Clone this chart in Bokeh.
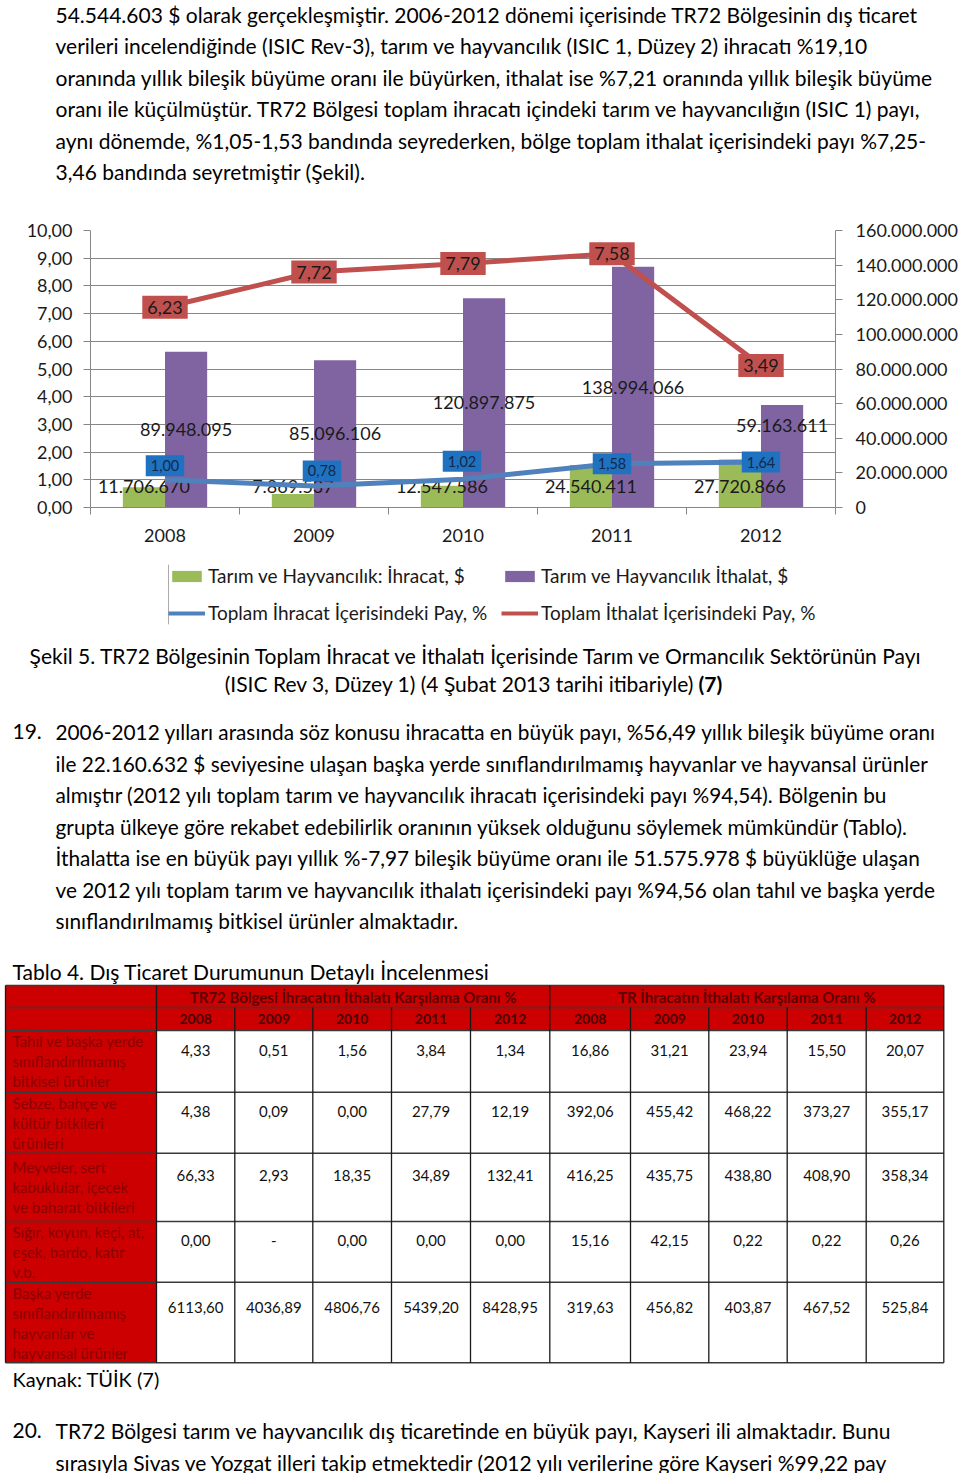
from bokeh.plotting import figure
from bokeh.models import (ColumnDataSource, Range1d, LinearAxis, FixedTicker,
                          Legend, LegendItem)
from bokeh.transform import dodge, stack
from bokeh.core.properties import value
from bokeh.embed import file_html
from bokeh.resources import INLINE

FONT = "Lato"

# ---------------- chart data ----------------
years = ["2008", "2009", "2010", "2011", "2012"]
export_usd = [11706670, 7869537, 12547586, 24540411, 27720866]
import_usd = [89948095, 85096106, 120897875, 138994066, 59163611]
export_share = [1.00, 0.78, 1.02, 1.58, 1.64]
import_share = [6.23, 7.72, 7.79, 7.58, 3.49]

left_ticks = [0, 1, 2, 3, 4, 5, 6, 7, 8, 9, 10]
left_tick_labels = ["0,00", "1,00", "2,00", "3,00", "4,00", "5,00",
                    "6,00", "7,00", "8,00", "9,00", "10,00"]
right_ticks = [0, 20000000, 40000000, 60000000, 80000000,
               100000000, 120000000, 140000000, 160000000]
right_tick_labels = ["0", "20.000.000", "40.000.000", "60.000.000", "80.000.000",
                     "100.000.000", "120.000.000", "140.000.000", "160.000.000"]

series_names = ["Tarım ve Hayvancılık: İhracat, $",
                "Tarım ve Hayvancılık İthalat, $",
                "Toplam İhracat İçerisindeki Pay, %",
                "Toplam İthalat İçerisindeki Pay, %"]

# label nudges in screen pixels (placement only)
share_label_dx = [0, 8, -1, 0, 0]
share_label_dy = [-14, -15, -18, 0, 0]
import_label_dy = [0, 0, 0, 0, -31]

# ---------------- text ----------------
top_para = [
    "54.544.603 $ olarak gerçekleşmiştir. 2006-2012 dönemi içerisinde TR72 Bölgesinin dış ticaret",
    "verileri incelendiğinde (ISIC Rev-3), tarım ve hayvancılık (ISIC 1, Düzey 2) ihracatı %19,10",
    "oranında yıllık bileşik büyüme oranı ile büyürken, ithalat ise %7,21 oranında yıllık bileşik büyüme",
    "oranı ile küçülmüştür. TR72 Bölgesi toplam ihracatı içindeki tarım ve hayvancılığın (ISIC 1) payı,",
    "aynı dönemde, %1,05-1,53 bandında seyrederken, bölge toplam ithalat içerisindeki payı %7,25-",
    "3,46 bandında seyretmiştir (Şekil).",
]
caption_1 = "Şekil 5. TR72 Bölgesinin Toplam İhracat ve İthalatı İçerisinde Tarım ve Ormancılık Sektörünün Payı"
caption_2 = "(ISIC Rev 3, Düzey 1) (4 Şubat 2013 tarihi itibariyle)"
caption_ref = "(7)"
para19 = [
    "2006-2012 yılları arasında söz konusu ihracatta en büyük payı, %56,49 yıllık bileşik büyüme oranı",
    "ile 22.160.632 $ seviyesine ulaşan başka yerde sınıflandırılmamış hayvanlar ve hayvansal ürünler",
    "almıştır (2012 yılı toplam tarım ve hayvancılık ihracatı içerisindeki payı %94,54). Bölgenin bu",
    "grupta ülkeye göre rekabet edebilirlik oranının yüksek olduğunu söylemek mümkündür (Tablo).",
    "İthalatta ise en büyük payı yıllık %-7,97 bileşik büyüme oranı ile 51.575.978 $ büyüklüğe ulaşan",
    "ve 2012 yılı toplam tarım ve hayvancılık ithalatı içerisindeki payı %94,56 olan tahıl ve başka yerde",
    "sınıflandırılmamış bitkisel ürünler almaktadır.",
]
table_title = "Tablo 4. Dış Ticaret Durumunun Detaylı İncelenmesi"
source_note = "Kaynak: TÜİK (7)"
para20 = [
    "TR72 Bölgesi tarım ve hayvancılık dış ticaretinde en büyük payı, Kayseri ili almaktadır. Bunu",
    "sırasıyla Sivas ve Yozgat illeri takip etmektedir (2012 yılı verilerine göre Kayseri %99,22 pay",
]

# ---------------- table data ----------------
table_groups = ["TR72 Bölgesi İhracatın İthalatı Karşılama Oranı %",
                "TR İhracatın İthalatı Karşılama Oranı %"]
table_rows = [
    ["Tahıl ve başka yerde", "sınıflandırılmamış", "bitkisel ürünler"],
    ["Sebze, bahçe ve", "kültür bitkileri", "ürünleri"],
    ["Meyveler, sert", "kabuklular, içecek", "ve baharat bitkileri"],
    ["Sığır, koyun, keçi, at,", "eşek, bardo, katır", "v.b."],
    ["Başka yerde", "sınıflandırılmamış", "hayvanlar ve", "hayvansal ürünler"],
]
tr72_ratio = [
    [4.33, 0.51, 1.56, 3.84, 1.34],
    [4.38, 0.09, 0.00, 27.79, 12.19],
    [66.33, 2.93, 18.35, 34.89, 132.41],
    [0.00, None, 0.00, 0.00, 0.00],
    [6113.60, 4036.89, 4806.76, 5439.20, 8428.95],
]
tr_ratio = [
    [16.86, 31.21, 23.94, 15.50, 20.07],
    [392.06, 455.42, 468.22, 373.27, 355.17],
    [416.25, 435.75, 438.80, 408.90, 358.34],
    [15.16, 42.15, 0.22, 0.22, 0.26],
    [319.63, 456.82, 403.87, 467.52, 525.84],
]

# ---------------- colours ----------------
GREEN = "#9BBB59"
PURPLE = "#8064A2"
BLUE = "#4F81BD"
RED = "#C0504D"
BLUE_BOX = "#1F72C0"
GRAY = "#868686"
TXT = "#1a1a1a"
TABLE_RED = "#CC0000"

PAGE_W = 960


def tr_int(v):
    return f"{v:,}".replace(",", ".")


def tr_dec(v):
    return "-" if v is None else f"{v:.2f}".replace(".", ",")


def text_fig(w, h):
    f = figure(width=w, height=h, x_range=Range1d(0, w), y_range=Range1d(h, 0),
               output_backend="svg", toolbar_location=None, min_border=0,
               x_axis_location=None, y_axis_location=None, outline_line_color=None)
    f.grid.visible = False
    return f


def put(f, x, y, txt, size="21px", align="left", color="#000000", style="normal"):
    f.text(x=[x], y=[y], text=[txt], text_font=value(FONT), text_font_size=size,
           text_align=align, text_baseline="middle", text_color=color,
           text_font_style=style)


# ================= top paragraph (page y 0..205) =================
top = text_fig(PAGE_W, 205)
for i, line in enumerate(top_para):
    put(top, 55, 14 + i * 31.4, line)

# ================= chart (page y 205..555) =================
xc = [i + 0.5 for i in range(len(years))]
src = ColumnDataSource(dict(
    xc=xc, export=export_usd, imp=import_usd,
    imp_mid=[v / 2 for v in import_usd], zero=[0] * len(years),
    ex_sh=export_share, im_sh=import_share,
    ex_lbl=[tr_int(v) for v in export_usd],
    im_lbl=[tr_int(v) for v in import_usd],
    ex_sh_lbl=[tr_dec(v) for v in export_share],
    im_sh_lbl=[tr_dec(v) for v in import_share],
    dx=share_label_dx, dy=share_label_dy, im_dy=import_label_dy,
))

p = figure(width=PAGE_W, height=350, x_range=Range1d(0, len(years)),
           y_range=Range1d(0, 10), output_backend="svg", toolbar_location=None,
           min_border_left=90, min_border_right=125, min_border_top=25,
           min_border_bottom=48, outline_line_color=None)
p.extra_y_ranges = {"usd": Range1d(0, 160000000)}

xa = p.xaxis[0]
xa.ticker = FixedTicker(ticks=xc, minor_ticks=list(range(len(years) + 1)))
xa.major_label_overrides = {x: y for x, y in zip(xc, years)}
xa.major_tick_out = 0
xa.major_tick_in = 0
xa.minor_tick_out = 7
xa.minor_tick_in = 0
xa.minor_tick_line_color = GRAY
xa.axis_line_color = GRAY
xa.major_label_standoff = 14
xa.major_label_text_font = FONT
xa.major_label_text_font_size = "18px"
xa.major_label_text_color = TXT

ya = p.yaxis[0]
ya.ticker = FixedTicker(ticks=left_ticks)
ya.major_label_overrides = {t: l for t, l in zip(left_ticks, left_tick_labels)}
ya.major_tick_out = 7
ya.major_tick_in = 0
ya.minor_tick_line_color = None
ya.axis_line_color = GRAY
ya.major_tick_line_color = GRAY
ya.major_label_standoff = 11
ya.major_label_text_font = FONT
ya.major_label_text_font_size = "18px"
ya.major_label_text_color = TXT

ra = LinearAxis(y_range_name="usd", ticker=FixedTicker(ticks=right_ticks),
                major_label_overrides={t: l for t, l in zip(right_ticks, right_tick_labels)})
ra.major_tick_out = 7
ra.major_tick_in = 0
ra.minor_tick_line_color = None
ra.axis_line_color = GRAY
ra.major_tick_line_color = GRAY
ra.major_label_standoff = 13
ra.major_label_text_font = FONT
ra.major_label_text_font_size = "18px"
ra.major_label_text_color = TXT
p.add_layout(ra, "right")

p.xgrid.visible = False
p.ygrid.ticker = FixedTicker(ticks=left_ticks)
p.ygrid.grid_line_color = GRAY
p.ygrid.grid_line_width = 1

BW = 0.283
p.vbar(x=dodge("xc", -BW / 2), top="export", width=BW, source=src,
       y_range_name="usd", fill_color=GREEN, line_color=None)
p.vbar(x=dodge("xc", BW / 2), top="imp", width=BW, source=src,
       y_range_name="usd", fill_color=PURPLE, line_color=None)

p.text(x=dodge("xc", -BW / 2), y="zero", text="ex_lbl", y_offset=-21, source=src,
       y_range_name="usd", text_align="center", text_baseline="middle",
       text_font=value(FONT), text_font_size="18px", text_color=TXT)
p.text(x=dodge("xc", BW / 2), y="imp_mid", text="im_lbl", y_offset="im_dy", source=src,
       y_range_name="usd", text_align="center", text_baseline="middle",
       text_font=value(FONT), text_font_size="18px", text_color=TXT)

p.line(x="xc", y="ex_sh", source=src, line_color=BLUE, line_width=5)
p.line(x="xc", y=stack("ex_sh", "im_sh"), source=src, line_color=RED, line_width=5)

p.text(x="xc", y=stack("ex_sh", "im_sh"), text="im_sh_lbl", source=src,
       text_align="center", text_baseline="middle", text_font=value(FONT),
       text_font_size="18px", text_color=TXT, background_fill_color=RED, padding=5)
p.text(x="xc", y="ex_sh", text="ex_sh_lbl", x_offset="dx", y_offset="dy", source=src,
       text_align="center", text_baseline="middle", text_font=value(FONT),
       text_font_size="14.5px", text_color="#13294B", background_fill_color=BLUE_BOX,
       padding=5)

# ================= legend (page y 555..640) =================
# legend swatches come from off-range stand-in renderers with the series styles
lf = figure(width=PAGE_W, height=85, x_range=Range1d(0, 1), y_range=Range1d(0, 1),
            output_backend="svg", toolbar_location=None, min_border_left=168,
            min_border_right=40, min_border_top=9, min_border_bottom=16,
            x_axis_location=None, y_axis_location=None, outline_line_color=None)
lf.grid.visible = False
off = ColumnDataSource(dict(x=[-10, -9], y=[0.5, 0.5], top=[1, 1]))
g_ex = lf.vbar(x="x", top="top", width=0.1, source=off, fill_color=GREEN, line_color=None)
g_im = lf.vbar(x="x", top="top", width=0.1, source=off, fill_color=PURPLE, line_color=None)
g_bl = lf.line(x="x", y="y", source=off, line_color=BLUE, line_width=4)
g_rd = lf.line(x="x", y="y", source=off, line_color=RED, line_width=4)

leg_style = dict(orientation="horizontal", padding=0, margin=0, spacing=8,
                 glyph_width=37, glyph_height=14, label_height=23, label_width=285,
                 label_standoff=3, border_line_color=None, background_fill_alpha=0,
                 label_text_font=FONT, label_text_font_size="19px",
                 label_text_color=TXT, label_text_baseline="middle")
lf.add_layout(Legend(items=[LegendItem(label=series_names[0], renderers=[g_ex]),
                            LegendItem(label=series_names[1], renderers=[g_im])],
                     location="top_left", **leg_style))
lf.add_layout(Legend(items=[LegendItem(label=series_names[2], renderers=[g_bl]),
                            LegendItem(label=series_names[3], renderers=[g_rd])],
                     location="bottom_left", **leg_style))

# ================= bottom (page y 640..1473) =================
bot = text_fig(PAGE_W, 833)
put(bot, 476, 15, caption_1, align="center")
put(bot, 694, 43, caption_2, align="right")
put(bot, 698, 43, caption_ref, style="bold")

put(bot, 12, 91, "19.")
for i, line in enumerate(para19):
    put(bot, 55, 91 + i * 31.5, line, size="20.8px")

put(bot, 12, 331, table_title)

col_edges = [5, 156, 234.3, 312.3, 391, 470, 549.3, 630, 708.3, 786.7, 865.7, 943.3]
row_edges = [345, 367, 390, 451.7, 512.7, 581, 641.7, 722.3]
TL, TR = col_edges[0], col_edges[-1]

bot.quad(left=[TL], right=[TR], top=[row_edges[0]], bottom=[row_edges[2]],
         fill_color=TABLE_RED, line_color=None)
bot.quad(left=[TL], right=[col_edges[1]], top=[row_edges[2]], bottom=[row_edges[-1]],
         fill_color=TABLE_RED, line_color=None)

hy = list(row_edges)
bot.segment(x0=[TL] * len(hy), y0=hy, x1=[TR] * len(hy), y1=hy,
            line_color="#3a3a3a", line_width=1.5)
vx, vy0, vy1 = [], [], []
for k, x in enumerate(col_edges):
    full = k in (0, 1, 6, len(col_edges) - 1)
    vx.append(x)
    vy0.append(row_edges[0] if full else row_edges[1])
    vy1.append(row_edges[-1])
bot.segment(x0=vx, y0=vy0, x1=vx, y1=vy1, line_color="#1a1a1a", line_width=1.3)

put(bot, (col_edges[1] + col_edges[6]) / 2, (row_edges[0] + row_edges[1]) / 2,
    table_groups[0], size="15px", align="center", color="#5C0000", style="bold")
put(bot, (col_edges[6] + col_edges[11]) / 2, (row_edges[0] + row_edges[1]) / 2,
    table_groups[1], size="15px", align="center", color="#5C0000", style="bold")
for k in range(10):
    put(bot, (col_edges[k + 1] + col_edges[k + 2]) / 2, (row_edges[1] + row_edges[2]) / 2,
        years[k % 5], size="14px", align="center", color="#4A0000", style="bold")

for r, lines in enumerate(table_rows):
    top_y, bot_y = row_edges[r + 2], row_edges[r + 3]
    h = bot_y - top_y
    start = top_y + (h - 20 * len(lines)) / 2 + 10
    for n, ln in enumerate(lines):
        put(bot, 12, start + n * 20, ln, size="15px", color="#8B0000")
    vals = tr72_ratio[r] + tr_ratio[r]
    vy = top_y + 0.32 * h
    for k, v in enumerate(vals):
        put(bot, (col_edges[k + 1] + col_edges[k + 2]) / 2, vy, tr_dec(v),
            size="15px", align="center", color="#111111")

put(bot, 12, 738, source_note, size="20px")
put(bot, 12, 790, "20.")
for i, line in enumerate(para20):
    put(bot, 55, 790 + i * 31.5, line)

open("out.html", "w").write(file_html([top, p, lf, bot], INLINE))
